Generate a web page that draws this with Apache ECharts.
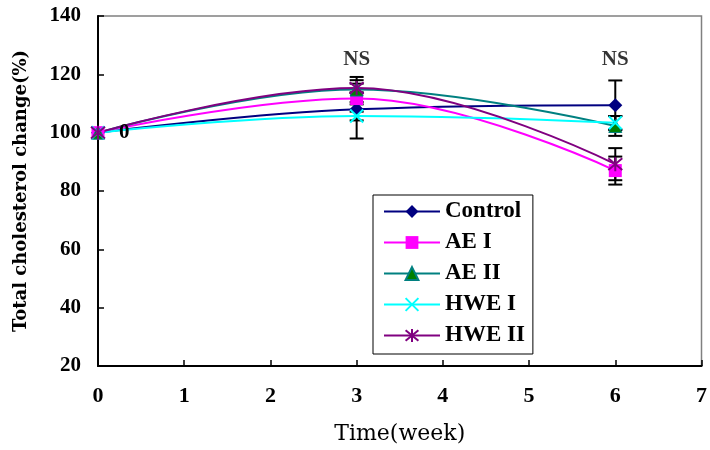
<!DOCTYPE html>
<html>
<head>
<meta charset="utf-8">
<script src="https://cdn.jsdelivr.net/npm/echarts@6/dist/echarts.min.js"></script>
<style>html,body{margin:0;padding:0;background:#fff}#c{width:710px;height:450px}</style>
</head>
<body>
<div id="c"></div>
<script>
// ---- data ----
var weeks = [0, 3, 6];
var seriesNames = ['Control', 'AE I', 'AE II', 'HWE I', 'HWE II'];
var controlVals = [100, 108.0, 109.4];
var ae1Vals     = [100, 111.7, 87.0];
var ae2Vals     = [100, 114.8, 102.3];
var hwe1Vals    = [100, 105.7, 103.4];
var hwe2Vals    = [100, 115.3, 89.2];
var controlErr  = [0, 10.0, 8.5];
var ae1Err      = [0, 2.0, 4.8];
var ae2Err      = [0, 4.3, 3.4];
var hwe1Err     = [0, 1.5, 2.3];
var hwe2Err     = [0, 1.5, 5.5];
var nsWeeks = [3, 6];
var nsLabel = 'NS';
var nsLevel = 125;
var xTicks = [0, 1, 2, 3, 4, 5, 6, 7];
var yTicks = [20, 40, 60, 80, 100, 120, 140];

var allVals = [controlVals, ae1Vals, ae2Vals, hwe1Vals, hwe2Vals];
var allErr = [controlErr, ae1Err, ae2Err, hwe1Err, hwe2Err];
var lineColors = ['#000080', '#FF00FF', '#008080', '#00FFFF', '#800080'];
var markColors = ['#000080', '#FF00FF', '#008000', '#00FFFF', '#800080'];
var symbols = ['diamond', 'rect', 'triangle',
  'path://M0,0L10,10M10,0L0,10',
  'path://M0,0L10,10M10,0L0,10M5,-1L5,11'];
var symbolSizes = [14, 13, 13, 13, 14];

var serifBold = {fontFamily: 'Liberation Serif', fontWeight: 'bold', color: '#000'};

var series = [];
var errData = [];
allVals.forEach(function (vals, si) {
  vals.forEach(function (v, i) {
    if (allErr[si][i] > 0) errData.push([weeks[i], v - allErr[si][i], v + allErr[si][i]]);
  });
});
series.push({
  type: 'custom', name: 'err', silent: true, z: 1,
  data: errData,
  encode: {x: 0, y: [1, 2]},
  renderItem: function (params, api) {
    var lo = api.coord([api.value(0), api.value(1)]);
    var hi = api.coord([api.value(0), api.value(2)]);
    var w = 7;
    var st = {stroke: '#000', lineWidth: 2};
    return {type: 'group', children: [
      {type: 'line', shape: {x1: lo[0], y1: lo[1], x2: hi[0], y2: hi[1]}, style: st},
      {type: 'line', shape: {x1: lo[0] - w, y1: lo[1], x2: lo[0] + w, y2: lo[1]}, style: st},
      {type: 'line', shape: {x1: hi[0] - w, y1: hi[1], x2: hi[0] + w, y2: hi[1]}, style: st}
    ]};
  }
});
allVals.forEach(function (vals, si) {
  var stroked = si >= 3;
  series.push({
    type: 'line', name: seriesNames[si], z: 3,
    smooth: 0.4,
    data: vals.map(function (v, i) { return [weeks[i], v]; }),
    symbol: symbols[si], symbolSize: symbolSizes[si],
    showAllSymbol: true,
    lineStyle: {color: lineColors[si], width: 2},
    itemStyle: stroked ? {color: markColors[si], borderColor: markColors[si], borderWidth: 2}
                       : {color: markColors[si], borderColor: si === 2 ? lineColors[si] : markColors[si], borderWidth: si === 2 ? 1 : 0},
    label: si === 0 ? {
      show: true, position: 'right', distance: 14,
      formatter: function (p) { return p.dataIndex === 0 ? String(weeks[0]) : ''; },
      fontFamily: 'Liberation Serif', fontWeight: 'bold', fontSize: 21, color: '#000'
    } : {show: false}
  });
});
series.push({
  type: 'scatter', name: 'ns', silent: true, symbol: 'circle', symbolSize: 0.1, z: 5,
  itemStyle: {color: 'rgba(0,0,0,0)'},
  data: nsWeeks.map(function (w) { return [w, nsLevel]; }),
  label: {show: true, position: 'inside', formatter: nsLabel,
    fontFamily: 'Liberation Serif', fontWeight: 'bold', fontSize: 21, color: '#000'}
});

var chart = echarts.init(document.getElementById('c'), null, {renderer: 'canvas'});
chart.setOption({
  animation: false,
  backgroundColor: '#fff',
  grid: {left: 98, right: 8, top: 16, bottom: 84, show: true, borderColor: '#808080', borderWidth: 1.5},
  legend: {
    data: seriesNames,
    orient: 'vertical', left: 373, top: 195,
    backgroundColor: '#fff', borderColor: '#000', borderWidth: 1,
    padding: [5, 8, 7, 10], itemGap: 8, itemWidth: 56, itemHeight: 16,
    textStyle: {fontFamily: 'Liberation Serif', fontWeight: 'bold', fontSize: 23, color: '#000'}
  },
  xAxis: {
    type: 'value', min: xTicks[0], max: xTicks[xTicks.length - 1], interval: 1,
    name: 'Time(week)', nameLocation: 'middle', nameGap: 57,
    nameTextStyle: {fontFamily: 'DejaVu Serif', fontSize: 22, color: '#000'},
    axisLine: {lineStyle: {color: '#000', width: 2}},
    axisTick: {inside: true, length: 6, lineStyle: {color: '#000', width: 1.5}},
    axisLabel: Object.assign({fontSize: 22, margin: 19}, serifBold),
    splitLine: {show: false}
  },
  yAxis: {
    type: 'value', min: yTicks[0], max: yTicks[yTicks.length - 1], interval: 20,
    name: 'Total cholesterol change(%)', nameLocation: 'middle', nameGap: 68,
    nameTextStyle: {fontFamily: 'DejaVu Serif', fontWeight: 'bold', fontSize: 18, color: '#000'},
    axisLine: {show: true, lineStyle: {color: '#000', width: 2}},
    axisTick: {show: true, inside: true, length: 6, lineStyle: {color: '#000', width: 1.5}},
    axisLabel: Object.assign({fontSize: 21, margin: 17}, serifBold),
    splitLine: {show: false}
  },
  series: series
});
</script>
</body>
</html>
